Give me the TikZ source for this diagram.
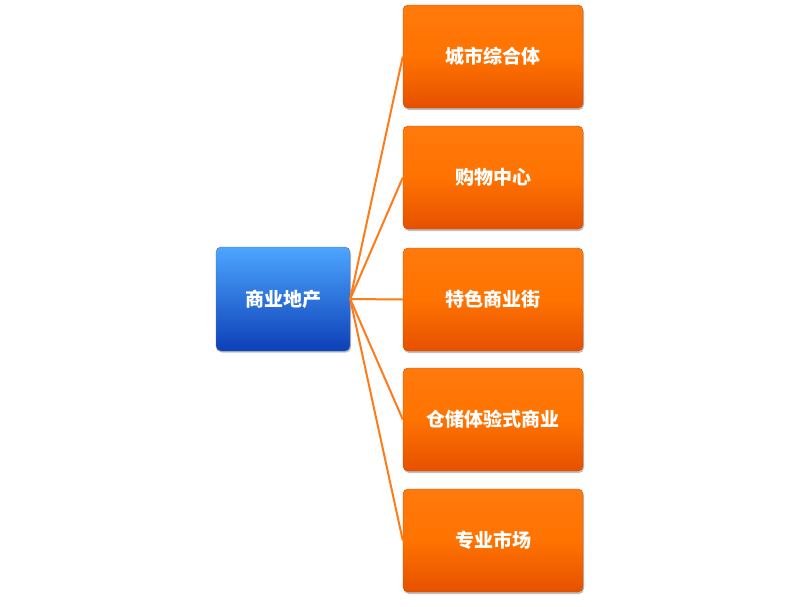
\documentclass[tikz,border=0pt]{standalone}
\usepackage{fontspec}
\setmainfont{Noto Sans CJK SC}
\begin{document}
\begin{tikzpicture}[x=1pt,y=-1pt,
  box/.style={rounded corners=5pt,minimum width=#1,text=white,font=\fontsize{19}{22}\selectfont\bfseries},
  obox/.style={box=180pt,minimum height=103pt,top color=orange!90!red!95!white,bottom color=orange!70!red!90!black,middle color=orange!90!red,draw=orange!70!red!80!black,line width=0.4pt},
  bbox/.style={box=134pt,minimum height=104pt,top color=cyan!50!blue!70!white,bottom color=cyan!30!blue!70!black!95,draw=blue!50!black!60,line width=0.4pt},
  shad/.style={rounded corners=5pt,fill=black,opacity=0.25,minimum width=#1,minimum height=103pt},
  link/.style={draw=orange!85!red!90!white,line width=2pt}]
\useasboundingbox (0,0) rectangle (800,606);
\foreach \y in {56.5,177.5,299.5,419.5,540.5} \node[shad=180pt] at (494,\y+2) {};
\node[shad=134pt] at (284,301) {};
\node[bbox] (root) at (283,299) {商业地产};
\node[obox] (a) at (493,56.5) {城市综合体};
\node[obox] (b) at (493,177.5) {购物中心};
\node[obox] (c) at (493,299.5) {特色商业街};
\node[obox] (d) at (493,419.5) {仓储体验式商业};
\node[obox] (e) at (493,540.5) {专业市场};
\foreach \n in {a,b,c,d,e} \draw[link] (root.east) -- (\n.west);
\end{tikzpicture}
\end{document}
